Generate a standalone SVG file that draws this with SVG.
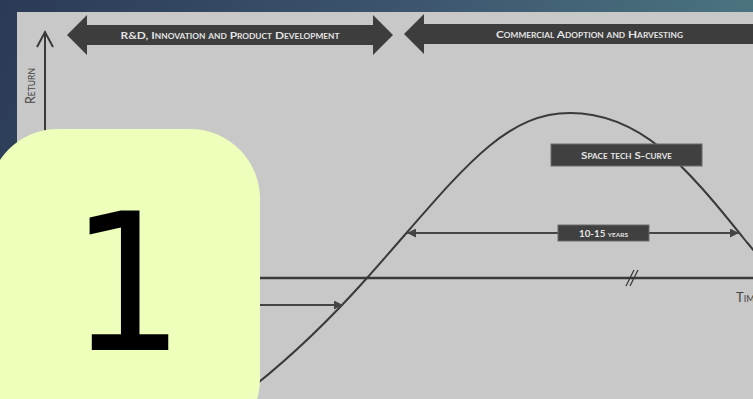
<svg xmlns="http://www.w3.org/2000/svg" width="753" height="399" viewBox="0 0 753 399">
  <defs>
    <linearGradient id="bg" x1="0" y1="0" x2="1" y2="0.25">
      <stop offset="0" stop-color="#2b3a56"/>
      <stop offset="0.5" stop-color="#3c546d"/>
      <stop offset="1" stop-color="#4c7782"/>
    </linearGradient>
    <marker id="tri" viewBox="0 0 10 10" refX="10" refY="5" markerWidth="9" markerHeight="9" markerUnits="userSpaceOnUse" orient="auto-start-reverse">
      <path d="M0,0 L10,5 L0,10 z" fill="#444"/>
    </marker>
  </defs>
  <style>
    .banner { fill: #3d3d3d; }
    .btxt { font-family: Lato, "Open Sans", "Liberation Sans", sans-serif; font-weight: bold; font-variant: small-caps; fill: #e4e4e4; }
    .axis { stroke: #3a3a3a; fill: none; }
    .lbl { fill: #404040; stroke: #6a6a6a; stroke-width: 1; }
    .atxt { font-family: Lato, "Open Sans", "Liberation Sans", sans-serif; font-variant: small-caps; fill: #444; }
    .conn { stroke: #444; stroke-width: 2; fill: none; }
  </style>
  <rect x="0" y="0" width="753" height="399" fill="url(#bg)"/>
  <rect x="17" y="12" width="736" height="387" fill="#c8c8c8"/>

  <g id="banner-rnd">
    <polygon class="banner" points="67,35 87,15 87,25 373,25 373,15 393,35 373,55 373,45 87,45 87,55"/>
    <text class="btxt" x="230" y="38.5" font-size="10" text-anchor="middle" textLength="219" lengthAdjust="spacingAndGlyphs">R&amp;D, Innovation and Product Development</text>
  </g>
  <g id="banner-commercial">
    <polygon class="banner" points="404,34 424,14 424,24 770,24 770,44 424,44 424,54"/>
    <text class="btxt" x="496" y="38" font-size="10" textLength="187" lengthAdjust="spacingAndGlyphs">Commercial Adoption and Harvesting</text>
  </g>

  <g id="axes">
    <line class="axis" x1="45" y1="32" x2="45" y2="399" stroke-width="2"/>
    <polyline class="axis" points="37,47 45,32 53,47" stroke-width="2"/>
    <line class="axis" x1="45" y1="278" x2="753" y2="278" stroke-width="2.5"/>
    <line class="axis" x1="626" y1="286" x2="634" y2="270" stroke-width="1.2"/>
    <line class="axis" x1="630" y1="286" x2="638" y2="270" stroke-width="1.2"/>
    <text class="atxt" transform="translate(35,86) rotate(-90)" font-size="13" text-anchor="middle" textLength="36" lengthAdjust="spacingAndGlyphs">Return</text>
    <text class="atxt" x="736" y="302" font-size="13" fill="#333">Time</text>
  </g>

  <g id="s-curve">
    <path class="axis" stroke-width="2" d="M240,397 C280,366.6 327,322.8 367,278 C457,177 500,113 570,113 C640,113 685,165 745,240 C750,246 756,253 762,261"/>
  </g>

  <g id="connectors">
    <line class="conn" x1="407" y1="233" x2="739" y2="233" marker-start="url(#tri)" marker-end="url(#tri)"/>
    <line class="conn" x1="200" y1="305" x2="343" y2="305" marker-end="url(#tri)"/>
  </g>

  <g id="label-scurve">
    <rect class="lbl" x="551" y="144" width="151" height="22"/>
    <text class="btxt" x="626.5" y="159" font-size="10" text-anchor="middle" textLength="91" lengthAdjust="spacingAndGlyphs">Space tech S-curve</text>
  </g>
  <g id="label-years">
    <rect class="lbl" x="558" y="225" width="91" height="16"/>
    <text class="btxt" x="603.5" y="237" font-size="9" text-anchor="middle" textLength="49" lengthAdjust="spacingAndGlyphs">10-15 years</text>
  </g>

  <g id="badge">
    <rect x="-12" y="129" width="272" height="320" rx="70" ry="70" fill="#eeffbb"/>
    <text x="124" y="350" font-family="'DejaVu Sans Mono', 'Liberation Mono', monospace" font-size="190" text-anchor="middle" fill="#000">1</text>
  </g>
</svg>
